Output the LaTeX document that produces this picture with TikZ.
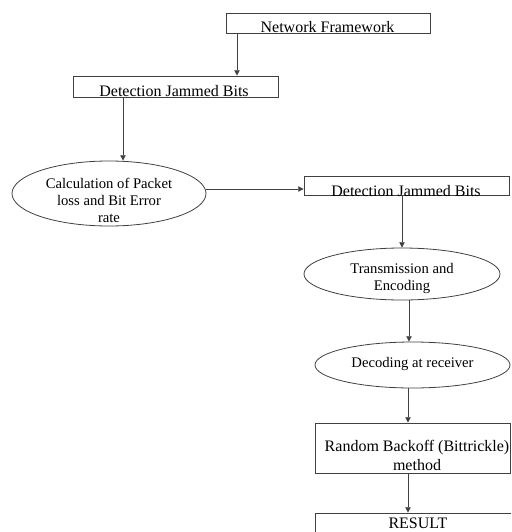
\documentclass[tikz,border=0pt]{standalone}
\usepackage{fontspec}
\setmainfont{Liberation Serif}
\usetikzlibrary{arrows.meta,shapes.geometric}

\begin{document}
\begin{tikzpicture}[x=0.75pt,y=-0.75pt,
		box/.style={draw=black!75,line width=0.6pt,rectangle,inner sep=0pt},
		oval/.style={draw=black!75,line width=0.6pt,ellipse,inner sep=0pt},
		arr/.style={draw=black!75,line width=0.6pt,-{Triangle[length=4pt,width=4pt]}},
		txt/.style={font=\fontsize{12}{14.25}\selectfont,inner sep=0pt,align=center},
		stxt/.style={font=\fontsize{11}{12.75}\selectfont,inner sep=0pt,align=center}]
			\useasboundingbox (0,0) rectangle (511,532);
			\clip (0,0) rectangle (511,532);
			\node[box,minimum width=153pt,minimum height=15pt] (frame) at (328,23) {};
			\node[box,minimum width=153.75pt,minimum height=15.75pt] (detA) at (175.5,86.5) {};
			\node[oval,minimum width=145.5pt,minimum height=48.75pt] (calc) at (109,193.5) {};
			\node[box,minimum width=153.75pt,minimum height=14.25pt] (detB) at (406.5,185.5) {};
			\node[oval,minimum width=147pt,minimum height=39pt] (trans) at (402,274) {};
			\node[oval,minimum width=146.25pt,minimum height=34.5pt] (decod) at (412.5,365) {};
			\node[box,minimum width=146.25pt,minimum height=37.5pt] (backoff) at (412.5,448) {};
			\node[box,minimum width=161.25pt,minimum height=45pt] (result) at (422.5,543) {};
			\node[txt,anchor=base] (frameT) at (327.5,32.5) {Network Framework};
			\node[txt,anchor=base] (detAT) at (174,96) {Detection Jammed Bits};
			\node[stxt] (calcT) at (109,200) {Calculation of Packet\\loss and Bit Error\\rate};
			\node[txt,anchor=base] (detBT) at (406,196.5) {Detection Jammed Bits};
			\node[stxt] (transT) at (402,278) {Transmission and\\Encoding};
			\node[stxt] (decodT) at (412.5,363.5) {Decoding at receiver};
			\node[txt] (backoffT) at (417,455) {Random Backoff (Bittrickle)\\method};
			\node[txt,anchor=base] (resultT) at (418,528.5) {RESULT};
			\coordinate (a1) at ([xshift=-68.25pt]frame.south);
			\coordinate (a2) at ([xshift=-39.375pt]detA.south);
			\coordinate (a3) at ([yshift=3.375pt]calc.east);
			\coordinate (a5) at ([xshift=5.25pt]trans.south);
			\coordinate (a6) at ([xshift=-3.375pt]decod.south);
			\coordinate (a7) at ([xshift=-3.375pt]backoff.south);
			\draw[arr] (a1) -- (a1 |- detA.north);
			\draw[arr] (a2) -- (a2 |- calc.north);
			\draw[arr] (a3) -- (a3 -| detB.west);
			\draw[arr] (detB.south -| trans.north) -- (trans.north);
			\draw[arr] (a5) -- (a5 |- decod.north);
			\draw[arr] (a6) -- (a6 |- backoff.north);
			\draw[arr] (a7) -- (a7 |- result.north);
		\end{tikzpicture}
\end{document}
